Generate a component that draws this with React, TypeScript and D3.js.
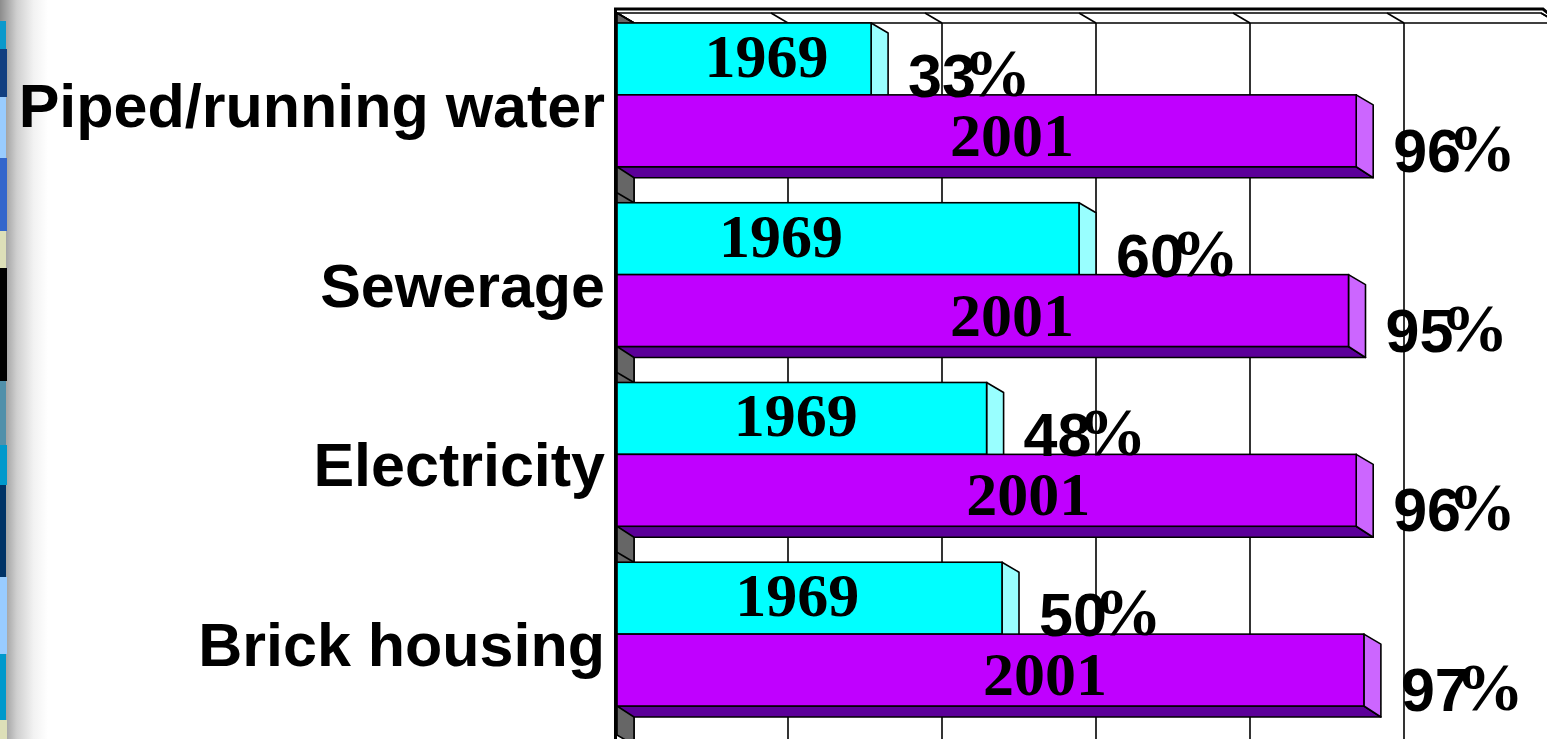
import React from "react";
import * as d3 from "d3";

const categories = ["Piped/running water", "Sewerage", "Electricity", "Brick housing"];
const seriesNames = ["1969", "2001"];
const values1969 = [33, 60, 48, 50];
const values2001 = [96, 95, 96, 97];
// where the series-name labels sit along the value axis (in %)
const label1969At = [19.4, 21.3, 23.2, 23.4];
const label2001At = [51.3, 51.3, 53.4, 55.6];
const xTicks = [0, 20, 40, 60, 80, 100, 120];

// slide decoration strip
const stripColors = ["#0a99cc", "#123f80", "#99ccff", "#3366cc", "#dddfb8", "#000000", "#5190aa", "#0099cc", "#003366", "#99ccff", "#0099cc", "#dddfb8"];
const stripBreaks = [21, 49, 97, 158, 231, 268, 381, 445, 485, 577, 654, 720, 739];

const W = 1547;
const H = 739;
const DX = 17;
const DY = 10;

const faceColors = {
  "1969": { front: "#00ffff", side: "#99ffff", bottom: "#00a0a0" },
  "2001": { front: "#c000ff", side: "#cc66ff", bottom: "#5c0099" },
};

export default function App() {
  const x = d3.scaleLinear().domain([0, 100]).range([617, 1387]);
  const y = d3.scaleBand<string>().domain(categories).range([5, 724]).paddingInner(0.2).paddingOuter(0.1);
  const ySub = d3.scaleBand<string>().domain(seriesNames).range([0, y.bandwidth()]);
  const x0 = x(0);
  const topFront = 13;
  const bottomFront = 735;
  const xMaxFront = x(120);

  const seriesVals: Record<string, number[]> = { "1969": values1969, "2001": values2001 };
  const labelAt: Record<string, number[]> = { "1969": label1969At, "2001": label2001At };

  const stroke = "#000";
  const sw = 1.6;

  return (
    <svg width={W} height={H} style={{ position: "absolute", left: 0, top: 0, background: "#fff" }}>
      <defs>
        <linearGradient id="edge" x1="0" x2="1" y1="0" y2="0">
          <stop offset="0" stopColor="#8c8c8c" />
          <stop offset="0.35" stopColor="#cfcfcf" />
          <stop offset="0.7" stopColor="#f2f2f2" />
          <stop offset="1" stopColor="#ffffff" />
        </linearGradient>
      </defs>
      {/* decoration strip */}
      <rect x={0} y={0} width={48} height={H} fill="url(#edge)" />
      {stripColors.map((c, i) => (
        <rect key={i} x={0} y={stripBreaks[i]} width={i % 2 === 0 ? 6 : 7} height={stripBreaks[i + 1] - stripBreaks[i]} fill={c} />
      ))}

      {/* back wall */}
      <rect x={x0 + DX} y={topFront + DY} width={xMaxFront - x0} height={bottomFront - topFront} fill="#fff" />
      {xTicks.map((t) => (
        <line key={"g" + t} x1={x(t) + DX} x2={x(t) + DX} y1={topFront + DY} y2={bottomFront + DY} stroke={stroke} strokeWidth={sw} />
      ))}
      {/* top side wall */}
      <polygon
        points={`${x0},${topFront} ${xMaxFront},${topFront} ${xMaxFront + DX},${topFront + DY} ${x0 + DX},${topFront + DY}`}
        fill="#fff"
        stroke={stroke}
        strokeWidth={sw}
      />
      {xTicks.map((t) => (
        <line key={"s" + t} x1={x(t)} y1={topFront} x2={x(t) + DX} y2={topFront + DY} stroke={stroke} strokeWidth={sw} />
      ))}
      <polyline points={`614,9 1543,9 1549,14`} fill="none" stroke={stroke} strokeWidth={3} />

      {/* floor (left wall) */}
      <polygon
        points={`${x0},${topFront} ${x0 + DX},${topFront + DY} ${x0 + DX},${bottomFront + DY} ${x0},${bottomFront}`}
        fill="#666"
        stroke={stroke}
        strokeWidth={sw}
      />
      {categories.map((c) => {
        const t = y(c)!;
        return <line key={"d" + c} x1={x0} y1={t - DY} x2={x0 + DX} y2={t} stroke={stroke} strokeWidth={sw} />;
      })}

      {/* bars */}
      {categories.map((c, ci) => (
        <g key={c}>
          {seriesNames.map((s) => {
            const v = seriesVals[s][ci];
            const y0 = y(c)! + ySub(s)!;
            const h = ySub.bandwidth();
            const x1 = x(v);
            const col = faceColors[s as "1969" | "2001"];
            return (
              <g key={s}>
                <polygon
                  points={`${x0},${y0 + h} ${x1},${y0 + h} ${x1 + DX},${y0 + h + DY + 1} ${x0 + DX},${y0 + h + DY + 1}`}
                  fill={col.bottom}
                  stroke={stroke}
                  strokeWidth={sw}
                  strokeLinejoin="round"
                />
                <polygon
                  points={`${x1},${y0} ${x1 + DX},${y0 + DY} ${x1 + DX},${y0 + h + DY + 1} ${x1},${y0 + h}`}
                  fill={col.side}
                  stroke={stroke}
                  strokeWidth={sw}
                  strokeLinejoin="round"
                />
                <rect x={x0} y={y0} width={x1 - x0} height={h} fill={col.front} stroke={stroke} strokeWidth={sw} />
              </g>
            );
          })}
        </g>
      ))}

      {/* axis line */}
      <line x1={615.5} x2={615.5} y1={8} y2={H} stroke={stroke} strokeWidth={3} />

      {/* series name labels inside bars */}
      {categories.map((c, ci) =>
        seriesNames.map((s) => {
          const y0 = y(c)! + ySub(s)!;
          return (
            <text
              key={"n" + c + s}
              x={x(labelAt[s][ci])}
              y={y0 + (s === "1969" ? 54 : 61)}
              textAnchor="middle"
              fontFamily="'Liberation Serif', 'Times New Roman', serif"
              fontWeight="bold"
              fontSize={62}
              fill="#000"
            >
              {s}
            </text>
          );
        })
      )}

      {/* value labels */}
      {categories.map((c, ci) =>
        seriesNames.map((s) => {
          const v = seriesVals[s][ci];
          const y0 = y(c)! + ySub(s)!;
          const h = ySub.bandwidth();
          return (
            <text
              key={"v" + c + s}
              x={x(v) + DX + 20}
              y={y0 + h + (s === "1969" ? 2 : 5)}
              fontFamily="'Liberation Sans', Arial, sans-serif"
              fontWeight="bold"
              fontSize={61}
              fill="#000"
            >
              {v}
              <tspan dx={-13} dy={-1} fontFamily="'Liberation Serif', 'Times New Roman', serif" fontSize={68}>
                %
              </tspan>
            </text>
          );
        })
      )}

      {/* category labels */}
      {categories.map((c) => (
        <text
          key={"c" + c}
          x={605}
          y={y(c)! + 104}
          textAnchor="end"
          fontFamily="'Liberation Sans', Arial, sans-serif"
          fontWeight="bold"
          fontSize={61}
          fill="#000"
        >
          {c}
        </text>
      ))}
    </svg>
  );
}
